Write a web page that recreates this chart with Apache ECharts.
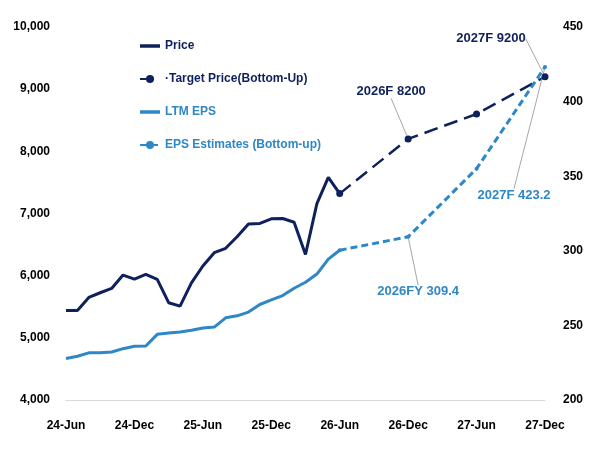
<!DOCTYPE html>
<html>
<head>
<meta charset="utf-8">
<script src="https://cdn.jsdelivr.net/npm/echarts@6/dist/echarts.min.js"></script>
<style>
  html, body { margin: 0; padding: 0; background: #fff; }
  #main { width: 600px; height: 450px; }
</style>
</head>
<body>
<div id="main"></div>
<script>
// 月度类目
var months = [
  '24-Jun', '24-Jul', '24-Aug', '24-Sep', '24-Oct', '24-Nov', '24-Dec',
  '25-Jan', '25-Feb', '25-Mar', '25-Apr', '25-May', '25-Jun',
  '25-Jul', '25-Aug', '25-Sep', '25-Oct', '25-Nov', '25-Dec',
  '26-Jan', '26-Feb', '26-Mar', '26-Apr', '26-May', '26-Jun',
  '26-Jul', '26-Aug', '26-Sep', '26-Oct', '26-Nov', '26-Dec',
  '27-Jan', '27-Feb', '27-Mar', '27-Apr', '27-May', '27-Jun',
  '27-Jul', '27-Aug', '27-Sep', '27-Oct', '27-Nov', '27-Dec'
]

// 股价 (左轴)
var price = [
  5440, 5440, 5650, 5725, 5795, 6010, 5945, 6020, 5940, 5565, 5510, 5885, 6155,
  6370, 6440, 6625, 6830, 6840, 6915, 6920, 6860, 6340, 7160, 7580, 7320
]

// 目标价 (左轴)
var targetDates = ['26-Jun', '26-Dec', '27-Jun', '27-Dec']
var targetPrice = [7320, 8200, 8600, 9200]
var targetLabels = ['', '2026F 8200', '', '2027F 9200']

// LTM EPS (右轴)
var ltmEps = [
  227.8, 229.3, 231.6, 231.6, 232.2, 234.4, 236.0, 236.2, 244.0, 244.9, 245.6, 246.7, 248.2,
  248.9, 255.1, 256.4, 258.9, 264.0, 267.1, 270.0, 274.9, 278.9, 284.4, 294.4, 300.4
]

// EPS 预测 (右轴)
var epsDates = ['26-Jun', '26-Dec', '27-Jun', '27-Dec']
var epsEst = [300.4, 309.4, 355.0, 423.2]
var epsLabels = ['', '2026FY 309.4', '', '2027F 423.2']

var navy = '#0f215c'
var blue = '#2e87c6'
var font = "'Liberation Sans', Arial, sans-serif"

// 标签偏移 (相对数据点)
var labelShift = {
  '1-1': { dx: -17, dy: -47 },
  '1-3': { dx: -54, dy: -38 },
  '3-1': { dx: 10, dy: 55 },
  '3-3': { dx: -31, dy: 128 }
}

function pointsWithLabels(dates, values, labels, color) {
  return dates.map(function (d, i) {
    var item = { value: [d, values[i]] }
    if (labels[i]) {
      item.label = {
        show: true,
        position: 'inside',
        formatter: labels[i],
        color: color,
        fontFamily: font,
        fontWeight: 'bold',
        fontSize: 13
      }
      item.labelLine = { show: true, lineStyle: { color: '#a6a6a6', width: 1 } }
    }
    return item
  })
}

var myChart = echarts.init(document.getElementById('main'))

var option = {
  animation: false,
  textStyle: { fontFamily: font },
  legend: {
    orient: 'vertical',
    left: 134,
    top: 35,
    itemGap: 21,
    itemWidth: 20,
    itemHeight: 10,
    data: [
      { name: 'Price', icon: 'path://M0,0H20V3.5H0Z', textStyle: { color: navy } },
      { name: '·Target Price(Bottom-Up)', textStyle: { color: navy } },
      { name: 'LTM EPS', icon: 'path://M0,0H20V3.5H0Z', textStyle: { color: blue } },
      { name: 'EPS Estimates (Bottom-up)', textStyle: { color: blue } }
    ],
    textStyle: { fontFamily: font, fontWeight: 'bold', fontSize: 12 }
  },
  grid: { left: 66, right: 55, top: 27, bottom: 50 },
  xAxis: {
    type: 'category',
    data: months,
    boundaryGap: false,
    axisLine: { lineStyle: { color: '#d9d9d9', width: 1 } },
    axisTick: { show: false },
    axisLabel: {
      interval: 5,
      margin: 20,
      color: '#000',
      fontFamily: font,
      fontWeight: 'bold',
      fontSize: 12
    },
    splitLine: { show: false }
  },
  yAxis: [
    {
      type: 'value',
      min: 4000,
      max: 10000,
      interval: 1000,
      axisLine: { show: false },
      axisTick: { show: false },
      splitLine: { show: false },
      axisLabel: {
        margin: 16,
        color: '#000',
        fontFamily: font,
        fontWeight: 'bold',
        fontSize: 12,
        formatter: function (v) { return v.toLocaleString('en-US') }
      }
    },
    {
      type: 'value',
      min: 200,
      max: 450,
      interval: 50,
      axisLine: { show: false },
      axisTick: { show: false },
      splitLine: { show: false },
      axisLabel: {
        margin: 18,
        color: '#000',
        fontFamily: font,
        fontWeight: 'bold',
        fontSize: 12
      }
    }
  ],
  labelLayout: function (params) {
    var s = labelShift[params.seriesIndex + '-' + params.dataIndex]
    return s ? { dx: s.dx, dy: s.dy } : {}
  },
  series: [
    {
      name: 'Price',
      type: 'line',
      yAxisIndex: 0,
      data: price,
      showSymbol: false,
      symbol: 'none',
      lineStyle: { color: navy, width: 3 },
      itemStyle: { color: navy }
    },
    {
      name: '·Target Price(Bottom-Up)',
      type: 'line',
      yAxisIndex: 0,
      data: pointsWithLabels(targetDates, targetPrice, targetLabels, navy),
      symbol: 'circle',
      symbolSize: 7,
      lineStyle: { color: navy, width: 2.5, type: [14, 7] },
      itemStyle: { color: navy },
      z: 3
    },
    {
      name: 'LTM EPS',
      type: 'line',
      yAxisIndex: 1,
      data: ltmEps,
      showSymbol: false,
      symbol: 'none',
      lineStyle: { color: blue, width: 3 },
      itemStyle: { color: blue }
    },
    {
      name: 'EPS Estimates (Bottom-up)',
      type: 'line',
      yAxisIndex: 1,
      data: pointsWithLabels(epsDates, epsEst, epsLabels, blue),
      symbol: 'circle',
      symbolSize: 4,
      lineStyle: { color: blue, width: 3, type: [7, 4] },
      itemStyle: { color: blue },
      z: 3
    }
  ]
}

myChart.setOption(option)
</script>
</body>
</html>
